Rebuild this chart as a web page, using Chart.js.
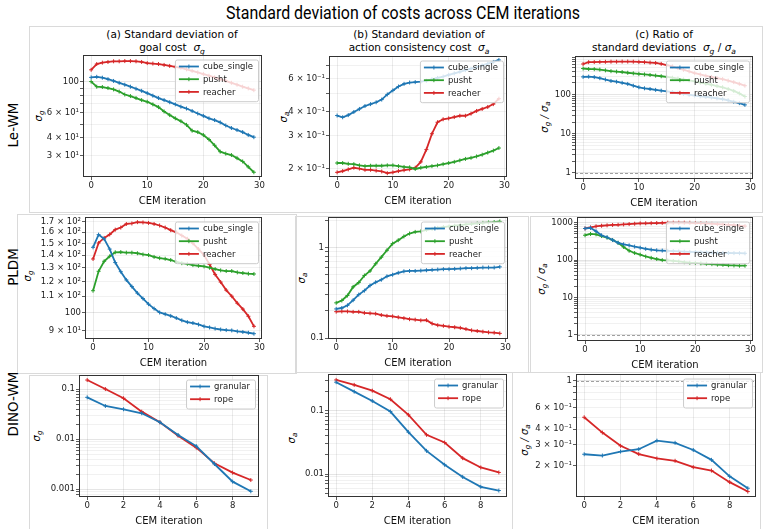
<!DOCTYPE html>
<html><head><meta charset="utf-8">
<script src="https://cdn.jsdelivr.net/npm/chart.js@4.4.1/dist/chart.umd.min.js"></script>
<style>
html,body{margin:0;padding:0;background:#fff;}
body{width:772px;height:529px;position:relative;overflow:hidden;font-family:"DejaVu Sans",sans-serif;color:#000;}
canvas{position:absolute;}
.lbl{position:absolute;white-space:nowrap;transform:translate(-50%,-50%);line-height:1.2;}
.rot{transform:translate(-50%,-50%) rotate(-90deg);}
.ylab{font-size:10px;font-style:italic;}
.box{position:absolute;border:1px solid #dadada;box-sizing:border-box;}
.ct{font-size:10.5px;text-align:center;}
sub{font-size:72%;vertical-align:-0.3em;line-height:0;}
.row{font-size:13.5px;}
#mainTitle{font-family:Roboto,'Liberation Sans',sans-serif;font-size:17.5px;transform-origin:center center;}
</style></head>
<body>
<div class="box" style="left:29px;top:26px;width:734px;height:187px"></div>
<div class="box" style="left:17px;top:214px;width:280px;height:160px"></div>
<div class="box" style="left:295px;top:216px;width:234px;height:157px"></div>
<div class="box" style="left:530px;top:216px;width:233px;height:157px"></div>
<div class="box" style="left:29px;top:375px;width:239px;height:160px"></div>
<div class="box" style="left:512px;top:372px;width:249px;height:160px"></div>

<div id="mainTitle" class="lbl" style="left:403px;top:13px">Standard deviation of costs across CEM iterations</div>

<div class="lbl ct" style="left:172px;top:41px">(a) Standard deviation of<br>goal cost&nbsp;&nbsp;<i>σ<sub>g</sub></i></div>
<div class="lbl ct" style="left:419px;top:41px">(b) Standard deviation of<br>action consistency cost&nbsp;&nbsp;<i>σ<sub>a</sub></i></div>
<div class="lbl ct" style="left:664px;top:41px">(c) Ratio of<br>standard deviations&nbsp;&nbsp;<i>σ<sub>g</sub></i> / <i>σ<sub>a</sub></i></div>

<div class="lbl rot row" style="left:13px;top:125px">Le-WM</div>
<div class="lbl rot row" style="left:13px;top:267px">PLDM</div>
<div class="lbl rot row" style="left:13px;top:404px">DINO-WM</div>

<div class="lbl rot ylab" style="left:39px;top:116px">σ<sub>g</sub></div>
<div class="lbl rot ylab" style="left:284px;top:117px">σ<sub>a</sub></div>
<div class="lbl rot ylab" style="left:545px;top:117px">σ<sub>g</sub> / σ<sub>a</sub></div>
<div class="lbl rot ylab" style="left:28px;top:276px">σ<sub>g</sub></div>
<div class="lbl rot ylab" style="left:302px;top:278px">σ<sub>a</sub></div>
<div class="lbl rot ylab" style="left:542px;top:279px">σ<sub>g</sub> / σ<sub>a</sub></div>
<div class="lbl rot ylab" style="left:37px;top:436px">σ<sub>g</sub></div>
<div class="lbl rot ylab" style="left:292px;top:438px">σ<sub>a</sub></div>
<div class="lbl rot ylab" style="left:525px;top:440px">σ<sub>g</sub> / σ<sub>a</sub></div>

<canvas id="r1c1"></canvas><canvas id="r1c2"></canvas><canvas id="r1c3"></canvas>
<canvas id="r2c1"></canvas><canvas id="r2c2"></canvas><canvas id="r2c3"></canvas>
<canvas id="r3c1"></canvas><canvas id="r3c2"></canvas><canvas id="r3c3"></canvas>

<script>
// ---------- categories / x values ----------
const iterLong  = [0,1,2,3,4,5,6,7,8,9,10,11,12,13,14,15,16,17,18,19,20,21,22,23,24,25,26,27,28,29];
const iterShort = [0,1,2,3,4,5,6,7,8,9];
const xTicksLong  = [0,10,20,30];
const xTicksShort = [0,2,4,6,8];

// ---------- Le-WM ----------
const lewmGoalCube    = [107,108,106.5,104,101,98,95,92,89,86,82.8,79.5,76.5,74,71.5,69,66.5,64.5,62,59.5,57.3,55,53.5,51.5,49,47,45.5,44,42,40.5];
const lewmGoalPusht   = [100,92,91.5,90,88,85,81,79,76.5,74,72,69,66,61.5,58,55,52.5,49.5,45,44,42,39,35.5,32,31,30.3,28.8,27.3,25,22.9];
const lewmGoalReacher = [121,133,136,137.5,139,139,139.5,139.5,139,137.5,135,134,133,131,129,127,125,122,119,116,113,110,107,104,101,98,95,92,89.5,87];

const lewmActCube    = [0.383,0.375,0.385,0.40,0.415,0.43,0.44,0.45,0.465,0.495,0.52,0.545,0.563,0.572,0.575,0.578,0.585,0.595,0.605,0.615,0.628,0.64,0.652,0.665,0.678,0.69,0.705,0.72,0.735,0.753];
const lewmActPusht   = [0.215,0.215,0.213,0.212,0.209,0.207,0.208,0.208,0.208,0.209,0.209,0.207,0.205,0.204,0.200,0.203,0.205,0.207,0.209,0.212,0.215,0.218,0.222,0.226,0.229,0.233,0.238,0.244,0.25,0.258];
const lewmActReacher = [0.192,0.195,0.199,0.203,0.201,0.198,0.198,0.196,0.194,0.19,0.192,0.195,0.197,0.199,0.203,0.218,0.253,0.307,0.353,0.366,0.37,0.376,0.382,0.382,0.392,0.405,0.415,0.425,0.44,0.47];

const lewmRatioCube    = [286,290,282,265,245,225,215,202,189,170,155,146,140,133,127,122,117,112,106,100,95,91,88,85,81,77,72,66,61,55];
const lewmRatioPusht   = [468,455,450,440,420,400,390,380,365,352,341,330,320,308,297,286,272,258,245,232,220,205,192,180,167,155,140,125,108,90];
const lewmRatioReacher = [611,680,685,690,695,700,700,705,705,700,690,680,665,650,615,575,530,480,435,395,355,330,305,285,265,250,230,210,190,170];

// ---------- PLDM ----------
const pldmGoalCube    = [146.5,157.8,153.9,145,134,127,121,116.4,112,108.5,105,102.3,100,99,98,96.8,95.5,94.5,94,93.2,92.2,91.6,91,90.5,90.2,90,89.5,89.2,88.8,88.3];
const pldmGoalPusht   = [113.6,127.3,135,139,142.3,142.5,142,142,141.5,140.5,140,138.5,137.5,137,136,134.5,133.5,133,132,131.5,131,130,129,128,127.5,127.5,126.5,126,125.5,125.3];
const pldmGoalReacher = [136.8,150.3,154.8,158,162.5,164.5,168,168.5,169.8,169.5,169,168,166.5,164.5,162,160,157,154,150,145,140,132.5,125,119.5,114,110,105.6,102,97.8,92.2];

const pldmActCube    = [0.21,0.215,0.23,0.262,0.302,0.334,0.38,0.413,0.44,0.48,0.5,0.525,0.545,0.55,0.55,0.555,0.56,0.565,0.57,0.575,0.575,0.58,0.585,0.59,0.59,0.595,0.6,0.6,0.6,0.61];
const pldmActPusht   = [0.245,0.26,0.295,0.367,0.41,0.49,0.55,0.66,0.78,0.93,1.1,1.2,1.32,1.42,1.48,1.5,1.56,1.6,1.64,1.67,1.7,1.73,1.76,1.79,1.81,1.84,1.86,1.88,1.9,1.93];
const pldmActReacher = [0.196,0.197,0.197,0.195,0.195,0.19,0.188,0.186,0.18,0.176,0.174,0.17,0.166,0.162,0.16,0.157,0.158,0.145,0.139,0.137,0.134,0.132,0.13,0.126,0.122,0.12,0.118,0.116,0.115,0.113];

const pldmRatioCube    = [700,725,593,460,408,345,290,265,248,230,215,200,190,183,180,177,174,171,168,166,164,162,160,158,157,156,155,154,153,152];
const pldmRatioPusht   = [462,500,490,440,400,345,290,225,178,155,140,125,115,107,100,98,95,92,88,85,84,82,80,78,76,75,73,72,71,71];
const pldmRatioReacher = [700,750,800,830,850,870,880,900,920,940,960,965,970,980,990,1000,1000,1000,1000,995,980,970,960,940,920,900,880,860,830,810];

// ---------- DINO-WM ----------
const dinoGoalGranular = [0.069,0.0463,0.0398,0.0331,0.0219,0.0122,0.0073,0.0032,0.00142,0.00091];
const dinoGoalRope     = [0.153,0.101,0.066,0.0357,0.0219,0.0118,0.0068,0.0033,0.00215,0.00153];
const dinoActGranular  = [0.28,0.199,0.142,0.0965,0.0457,0.0232,0.014,0.009,0.0063,0.0055];
const dinoActRope      = [0.304,0.254,0.206,0.151,0.0855,0.0415,0.0314,0.0178,0.0127,0.0106];
const dinoRatioGranular= [0.249,0.243,0.262,0.274,0.322,0.309,0.27,0.224,0.164,0.131];
const dinoRatioRope    = [0.501,0.375,0.292,0.25,0.23,0.22,0.195,0.183,0.147,0.123];

// ---------- y tick grids and labels ----------
const yGrid_r1c1 = [30,40,50,60,70,80,90,100];
const yLabV_r1c1 = [30,40,60,100];
const yLabT_r1c1 = ['3 × 10¹','4 × 10¹','6 × 10¹','100'];
const yGrid_r1c2 = [0.2,0.3,0.4,0.5,0.6,0.7];
const yLabV_r1c2 = [0.2,0.3,0.4,0.6];
const yLabT_r1c2 = ['2 × 10⁻¹','3 × 10⁻¹','4 × 10⁻¹','6 × 10⁻¹'];
const yGrid_r1c3 = [1,2,3,4,5,6,7,8,9,10,20,30,40,50,60,70,80,90,100,200,300,400,500,600,700,800,900];
const yLabV_r1c3 = [1,10,100];
const yLabT_r1c3 = ['1','10','100'];
const yGrid_r2c1 = [90,100,110,120,130,140,150,160,170];
const yLabV_r2c1 = [90,100,110,120,130,140,150,160,170];
const yLabT_r2c1 = ['9 × 10¹','100','1.1 × 10²','1.2 × 10²','1.3 × 10²','1.4 × 10²','1.5 × 10²','1.6 × 10²','1.7 × 10²'];
const yGrid_r2c2 = [0.1,0.2,0.3,0.4,0.5,0.6,0.7,0.8,0.9,1,2];
const yLabV_r2c2 = [0.1,1];
const yLabT_r2c2 = ['0.1','1'];
const yGrid_r2c3 = [1,2,3,4,5,6,7,8,9,10,20,30,40,50,60,70,80,90,100,200,300,400,500,600,700,800,900,1000];
const yLabV_r2c3 = [1,10,100,1000];
const yLabT_r2c3 = ['1','10','100','1000'];
const yGrid_r3c1 = [0.0008,0.0009,0.001,0.002,0.003,0.004,0.005,0.006,0.007,0.008,0.009,0.01,0.02,0.03,0.04,0.05,0.06,0.07,0.08,0.09,0.1];
const yLabV_r3c1 = [0.001,0.01,0.1];
const yLabT_r3c1 = ['0.001','0.01','0.1'];
const yGrid_r3c2 = [0.005,0.006,0.007,0.008,0.009,0.01,0.02,0.03,0.04,0.05,0.06,0.07,0.08,0.09,0.1,0.2,0.3];
const yLabV_r3c2 = [0.01,0.1];
const yLabT_r3c2 = ['0.01','0.1'];
const yGrid_r3c3 = [0.2,0.3,0.4,0.5,0.6,0.7,0.8,0.9,1];
const yLabV_r3c3 = [0.2,0.3,0.4,0.6,1];
const yLabT_r3c3 = ['2 × 10⁻¹','3 × 10⁻¹','4 × 10⁻¹','6 × 10⁻¹','1'];

const refLineValue = 1;
const BLUE='#1f77b4', GREEN='#2ca02c', RED='#d62728';

// fit main title width to the reference span
(function(){
  const t = document.getElementById('mainTitle');
  const w = t.getBoundingClientRect().width;
  t.style.transform = 'translate(-50%,-50%) scaleX(' + (354 / w).toFixed(3) + ')';
})();

// ---------- plugins ----------
const framePlugin = {id:'frame', afterDatasetsDraw(ch){
  const {ctx, chartArea:a} = ch; ctx.save(); ctx.strokeStyle='#333'; ctx.lineWidth=1;
  ctx.strokeRect(Math.round(a.left)+0.5, Math.round(a.top)+0.5, Math.round(a.right)-Math.round(a.left)-1, Math.round(a.bottom)-Math.round(a.top)-1);
  ctx.restore();
}};
const refPlugin = {id:'refLine', beforeDatasetsDraw(ch, args, opts){
  if (opts.value == null) return;
  const {ctx, chartArea:a, scales} = ch; const y = Math.round(scales.y.getPixelForValue(opts.value))+0.5;
  ctx.save(); ctx.strokeStyle='rgba(120,120,120,0.7)'; ctx.lineWidth=1; ctx.setLineDash([3,2]);
  ctx.beginPath(); ctx.moveTo(a.left,y); ctx.lineTo(a.right,y); ctx.stroke(); ctx.restore();
}};
const legendPlugin = {id:'mplLegend', afterDraw(ch){
  const {ctx, chartArea:a} = ch; const ds = ch.data.datasets;
  ctx.save(); ctx.font = '8.5px "DejaVu Sans"';
  const tw = Math.max(...ds.map(d=>ctx.measureText(d.label).width));
  const w = 28 + tw + 5, h = 12.7*ds.length + 3.6;
  const bx = a.right - 4 - w, by = a.top + 4.5;
  ctx.beginPath(); ctx.roundRect(bx+0.5, by+0.5, w, h, 2);
  ctx.fillStyle='rgba(255,255,255,0.8)'; ctx.fill(); ctx.strokeStyle='#cccccc'; ctx.lineWidth=1; ctx.stroke();
  ds.forEach((d,i)=>{
    const yy = by + 7 + i*12.7;
    ctx.strokeStyle=d.borderColor; ctx.lineWidth=1.8; ctx.beginPath(); ctx.moveTo(bx+4,yy); ctx.lineTo(bx+24,yy); ctx.stroke();
    ctx.lineWidth=1; ctx.beginPath(); ctx.moveTo(bx+14,yy-2); ctx.lineTo(bx+14,yy+2); ctx.stroke();
    ctx.fillStyle='#222'; ctx.textBaseline='middle'; ctx.textAlign='left'; ctx.fillText(d.label, bx+28, yy+0.5);
  });
  ctx.restore();
}};

Chart.defaults.font.family = "'DejaVu Sans', sans-serif";
Chart.defaults.color = '#222';

const YW=60, PT=8, PR=12, XH=30;
function isDecade(v){const l=Math.log10(v);return Math.abs(l-Math.round(l))<1e-6;}
function near(a,b){return Math.abs(a/b-1)<1e-6;}

function panel(id, rect, x, y, series, ref){
  const [L,T,R,B] = rect;
  const cv = document.getElementById(id);
  const w = YW+(R-L)+PR, h = PT+(B-T)+XH;
  cv.width=w; cv.height=h; cv.style.width=w+'px'; cv.style.height=h+'px';
  cv.style.left=(L-YW)+'px'; cv.style.top=(T-PT)+'px';
  new Chart(cv, {
    type:'line',
    data:{datasets: series.map(s=>({
      label:s.label, data:x.vals.map((v,i)=>({x:v, y:s.data[i]})),
      borderColor:s.color, backgroundColor:s.color, borderWidth:1.8,
      pointStyle:'cross', pointRadius:2, pointBorderWidth:1, pointBorderColor:s.color, pointBackgroundColor:s.color,
      tension:0, fill:false}))},
    options:{
      responsive:false, animation:false, devicePixelRatio:1, events:[],
      layout:{padding:{left:0, top:PT, right:PR, bottom:0}},
      plugins:{legend:{display:false}, tooltip:{enabled:false}, refLine:{value:ref}},
      scales:{
        x:{type:'linear', min:x.min, max:x.max,
          afterBuildTicks:s=>{s.ticks = x.ticks.map(v=>({value:v}));},
          afterFit:s=>{s.height = XH;},
          ticks:{autoSkip:false, maxRotation:0, padding:1, font:{size:8.5}, color:'#222', callback:v=>String(v)},
          grid:{color:'rgba(0,0,0,0.1)', tickColor:'#333', tickLength:3, lineWidth:0.8},
          border:{display:false},
          title:{display:true, text:'CEM iteration', font:{size:10}, color:'#111', padding:{top:0,bottom:0}}},
        y:{type:'logarithmic', min:y.min, max:y.max,
          afterBuildTicks:s=>{s.ticks = y.grid.map(v=>({value:v}));},
          afterFit:s=>{s.width = YW;},
          ticks:{autoSkip:false, padding:1, font:{size:8.5}, color:'#222',
            callback:v=>{const k=y.labV.findIndex(u=>near(u,v)); return k>=0 ? y.labT[k] : '';}},
          grid:{color:c=>(c.tick && isDecade(c.tick.value)) ? 'rgba(0,0,0,0.13)' : 'rgba(0,0,0,0.07)',
                tickColor:'#333', tickLength:3, lineWidth:0.8},
          border:{display:false}}
      }
    },
    plugins:[refPlugin, framePlugin, legendPlugin]
  });
}

const XL = {vals:iterLong, ticks:xTicksLong, min:-1.45, max:30.45};
const XS = {vals:iterShort, ticks:xTicksShort, min:-0.45, max:9.45};
const three = (a,b,c)=>[{label:'cube_single',color:BLUE,data:a},{label:'pusht',color:GREEN,data:b},{label:'reacher',color:RED,data:c}];
const two = (a,b)=>[{label:'granular',color:BLUE,data:a},{label:'rope',color:RED,data:b}];

panel('r1c1',[83,55,262,177],XL,{min:21.2,max:154,grid:yGrid_r1c1,labV:yLabV_r1c1,labT:yLabT_r1c1},three(lewmGoalCube,lewmGoalPusht,lewmGoalReacher),null);
panel('r1c2',[329,56,507,177],XL,{min:0.1814,max:0.79,grid:yGrid_r1c2,labV:yLabV_r1c2,labT:yLabT_r1c2},three(lewmActCube,lewmActPusht,lewmActReacher),null);
panel('r1c3',[575,56,753,179],XL,{min:0.72,max:978,grid:yGrid_r1c3,labV:yLabV_r1c3,labT:yLabT_r1c3},three(lewmRatioCube,lewmRatioPusht,lewmRatioReacher),refLineValue);
panel('r2c1',[85,217,262,339],XL,{min:85.6,max:175,grid:yGrid_r2c1,labV:yLabV_r2c1,labT:yLabT_r2c1},three(pldmGoalCube,pldmGoalPusht,pldmGoalReacher),null);
panel('r2c2',[328,217,508,339],XL,{min:0.098,max:2.16,grid:yGrid_r2c2,labV:yLabV_r2c2,labT:yLabT_r2c2},three(pldmActCube,pldmActPusht,pldmActReacher),null);
panel('r2c3',[577,217,753,341],XL,{min:0.69,max:1420,grid:yGrid_r2c3,labV:yLabV_r2c3,labT:yLabT_r2c3},three(pldmRatioCube,pldmRatioPusht,pldmRatioReacher),refLineValue);
panel('r3c1',[79,375,259,497],XS,{min:0.0007,max:0.193,grid:yGrid_r3c1,labV:yLabV_r3c1,labT:yLabT_r3c1},two(dinoGoalGranular,dinoGoalRope),null);
panel('r3c2',[328,374,507,497],XS,{min:0.00435,max:0.377,grid:yGrid_r3c2,labV:yLabV_r3c2,labT:yLabT_r3c2},two(dinoActGranular,dinoActRope),null);
panel('r3c3',[576,374,756,497],XS,{min:0.111,max:1.135,grid:yGrid_r3c3,labV:yLabV_r3c3,labT:yLabT_r3c3},two(dinoRatioGranular,dinoRatioRope),refLineValue);
</script>
</body></html>
